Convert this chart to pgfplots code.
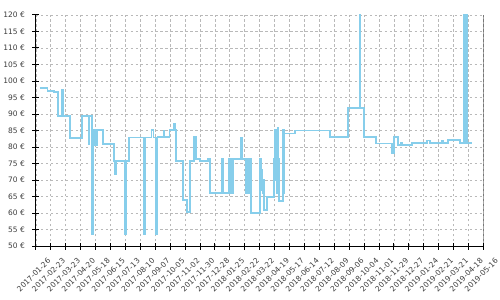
\documentclass[border=0pt]{standalone}
\usepackage{fontspec}
\setmainfont{DejaVu Sans}
\usepackage{pgfplots}
\pgfplotsset{compat=1.18}
\definecolor{line}{RGB}{135,206,235}
\definecolor{gridc}{RGB}{185,185,185}
\definecolor{txt}{RGB}{60,60,60}
\begin{document}
\begin{tikzpicture}
\begin{axis}[
  scale only axis, width=449pt, height=232pt,
  xmin=0, xmax=840, ymin=50, ymax=120,
  axis x line*=bottom, axis y line*=left,
  axis line style={black, line width=1.1pt, -},
  tick align=center, major tick length=7pt,
  tick style={black, line width=1pt},
  grid=major,
  grid style={gridc, dashed, line width=0.7pt, dash pattern=on 2.5pt off 2.5pt},
  /pgf/number format/assume math mode=true,
  tick label style={font=\fontsize{7.5}{9}\selectfont, text=txt},
  xtick={0,28,...,840},
  xticklabels={2017-01-26,2017-02-23,2017-03-23,2017-04-20,2017-05-18,2017-06-15,2017-07-13,2017-08-10,2017-09-07,2017-10-05,2017-11-02,2017-11-30,2017-12-28,2018-01-25,2018-02-22,2018-03-22,2018-04-19,2018-05-17,2018-06-14,2018-07-12,2018-08-09,2018-09-06,2018-10-04,2018-11-01,2018-11-29,2018-12-27,2019-01-24,2019-02-21,2019-03-21,2019-04-18,2019-05-16},
  xticklabel style={xshift=14pt, yshift=-9pt, rotate=45, anchor=east, inner sep=1pt},
  ytick={50,55,...,120},
  yticklabel style={xshift=-4pt},
  yticklabels={50 €,55 €,60 €,65 €,70 €,75 €,80 €,85 €,90 €,95 €,100 €,105 €,110 €,115 €,120 €},
]
\addplot[const plot, color=line, line width=1.8pt] coordinates {
(7.5,97.8)(21.9,96.9)(29.4,97.1)(34.2,96.7)(41.2,89.4)(48.1,97.2)(50.5,89.4)(64.2,82.7)(86.0,89.4)(98.6,80.8)(100.4,89.4)(104.7,53.8)(106.6,85.1)(108.5,80.5)(110.4,85.1)(112.2,80.5)(114.1,85.1)(125.9,81.0)(145.9,75.7)(147.8,71.9)(151.0,75.7)(167.8,53.8)(169.7,75.7)(174.0,82.9)(202.6,53.8)(204.4,82.9)(217.0,85.1)(220.7,82.9)(224.5,53.8)(226.0,82.9)(226.9,53.8)(228.2,83.0)(239.4,85.0)(241.3,83.0)(250.6,85.1)(258.7,87.1)(261.9,85.1)(263.2,75.7)(275.5,64.0)(283.0,60.3)(289.4,75.7)(297.4,83.0)(300.6,76.5)(308.6,75.7)(323.6,76.5)(326.8,66.2)(349.2,76.5)(351.7,66.2)(362.9,76.5)(364.7,66.2)(366.6,76.5)(368.5,66.2)(370.4,76.5)(384.8,82.8)(386.6,76.5)(394.1,66.2)(395.6,76.5)(397.5,66.2)(399.4,76.5)(403.5,60.0)(420.9,76.5)(422.4,67)(423.7,73)(425.2,66)(426.5,70)(428.3,60.9)(434.0,65)(447.1,76.5)(448.4,85.1)(449.5,70)(450.8,85.1)(452.1,66)(453.6,85.7)(455.1,76.5)(456.4,63.7)(463.9,85.1)(465.2,66)(466.3,84.1)(486.3,85.0)(551.8,83.0)(585.5,91.8)(607.4,120)(609.2,91.8)(615.4,83)(637.8,81.1)(667.8,78.3)(672.8,83)(679.6,80.6)(684.1,81.3)(686.5,80.6)(705.8,81.2)(733.8,82)(738.9,81.2)(761.9,82)(764.1,81.2)(773.1,82.1)(796.3,81.2)(803.8,120)(805.3,81.2)(807.2,120)(809.6,81.2)(818.9,81.2)
};
\draw[black, line width=1.1pt] (rel axis cs:1,0) -- (rel axis cs:1,1);
\end{axis}
\path[use as bounding box] (-36pt,-53pt) rectangle (464pt,247pt);
\end{tikzpicture}
\end{document}
